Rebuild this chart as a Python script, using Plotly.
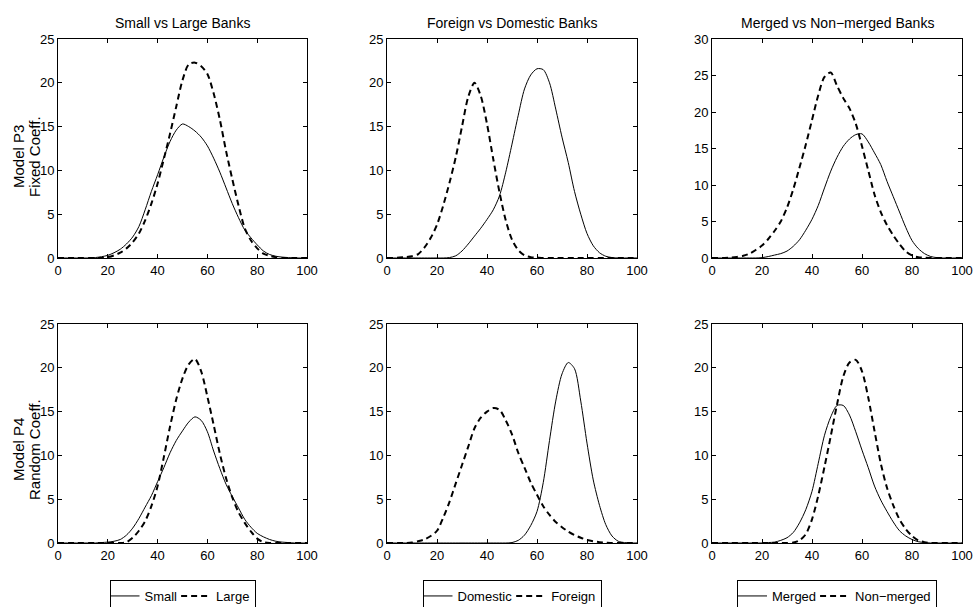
import plotly.graph_objects as go

# ---------------- data ----------------
X = [0, 2.5, 5, 7.5, 10, 12.5, 15, 17.5, 20, 22.5, 25, 27.5, 30, 32.5, 35, 37.5, 40,
     42.5, 45, 47.5, 50, 52.5, 55, 57.5, 60, 62.5, 65, 67.5, 70, 72.5, 75, 77.5, 80,
     82.5, 85, 87.5, 90, 92.5, 95, 97.5, 100]

X_TICKS = [0, 20, 40, 60, 80, 100]

TITLES = ["Small vs Large Banks", "Foreign vs Domestic Banks", "Merged vs Non\u2212merged Banks"]
ROW_LABELS = [("Model P3", "Fixed Coeff."), ("Model P4", "Random Coeff.")]
LEGEND_NAMES = [("Small", "Large"), ("Domestic", "Foreign"), ("Merged", "Non\u2212merged")]

# Row 1: Model P3 Fixed Coeff.
p3_small = [0, 0, 0, 0, 0, 0, 0.05, 0.15, 0.3, 0.6, 1.0, 1.6, 2.4, 3.6, 5.5, 7.6, 9.5, 11.5,
            13.3, 14.6, 15.3, 15.0, 14.5, 13.8, 12.8, 11.4, 9.8, 8.0, 6.2, 4.6, 3.2, 2.3, 1.5,
            0.8, 0.4, 0.2, 0.1, 0.05, 0, 0, 0]
p3_large = [0, 0, 0, 0, 0, 0, 0, 0, 0.1, 0.3, 0.6, 1.1, 1.8, 2.8, 4.3, 6.2, 8.5, 11.3, 14.2,
            17.3, 20.3, 22.1, 22.3, 21.9, 21.0, 18.8, 15.8, 12.2, 9.0, 6.0, 3.4, 2.0, 1.1, 0.5,
            0.25, 0.1, 0, 0, 0, 0, 0]
p3_domestic = [0, 0, 0, 0, 0, 0, 0, 0, 0, 0, 0.05, 0.25, 0.8, 1.6, 2.5, 3.4, 4.4, 5.5, 7.1,
               9.8, 13.0, 16.3, 19.3, 20.9, 21.6, 21.5, 20.0, 17.0, 13.8, 10.9, 7.6, 5.0, 2.8,
               1.4, 0.6, 0.2, 0.05, 0, 0, 0, 0]
p3_foreign = [0, 0, 0.05, 0.1, 0.2, 0.45, 1.2, 2.3, 3.8, 6.0, 8.6, 11.5, 15.0, 18.4, 20.0,
              18.5, 15.3, 11.3, 7.5, 4.3, 2.1, 0.9, 0.3, 0.1, 0.05, 0, 0, 0, 0, 0, 0, 0, 0,
              0, 0, 0, 0, 0, 0, 0, 0]
p3_merged = [0, 0, 0, 0, 0, 0, 0, 0, 0.05, 0.2, 0.4, 0.6, 0.95, 1.6, 2.5, 3.8, 5.3, 7.2, 9.6,
             11.9, 13.8, 15.3, 16.3, 16.9, 17.0, 15.9, 14.4, 12.8, 10.5, 8.4, 6.3, 4.2, 2.4,
             1.3, 0.6, 0.2, 0.05, 0, 0, 0, 0]
p3_nonmerged = [0, 0, 0, 0.05, 0.15, 0.3, 0.6, 1.1, 1.7, 2.6, 3.7, 5.0, 6.9, 9.4, 12.4, 15.5,
                18.9, 22.3, 24.8, 25.4, 23.6, 21.9, 20.5, 18.4, 15.3, 12.0, 8.7, 6.3, 4.5, 3.1,
                1.9, 0.9, 0.35, 0.1, 0.05, 0, 0, 0, 0, 0, 0]

# Row 2: Model P4 Random Coeff.
p4_small = [0, 0, 0, 0, 0, 0, 0, 0.05, 0.1, 0.2, 0.4, 0.9, 1.7, 2.8, 4.1, 5.4, 7.0, 8.6,
            10.3, 11.7, 12.8, 13.8, 14.4, 14.0, 12.7, 10.5, 8.5, 6.7, 5.3, 4.0, 2.7, 1.8, 1.1,
            0.7, 0.4, 0.2, 0.1, 0.05, 0, 0, 0]
p4_large = [0, 0, 0, 0, 0, 0, 0, 0, 0, 0, 0, 0.1, 0.6, 1.4, 2.5, 4.2, 6.5, 9.8, 13.3, 16.4,
            18.8, 20.4, 21.0, 19.6, 16.7, 13.5, 10.2, 7.4, 5.2, 3.5, 2.3, 1.3, 0.5, 0.1, 0, 0,
            0, 0, 0, 0, 0]
p4_domestic = [0, 0, 0, 0, 0, 0, 0, 0, 0, 0, 0, 0, 0, 0, 0, 0, 0, 0, 0, 0, 0.05, 0.3, 0.9,
               2.0, 3.6, 6.9, 11.7, 16.2, 19.3, 20.6, 19.9, 16.2, 11.4, 7.2, 4.3, 2.1, 0.8,
               0.2, 0.05, 0, 0]
p4_foreign = [0, 0, 0, 0, 0.05, 0.2, 0.4, 0.8, 1.4, 2.9, 4.7, 6.8, 8.9, 11.0, 13.1, 14.3,
              15.0, 15.4, 15.2, 14.0, 12.4, 10.3, 8.6, 6.9, 5.5, 4.2, 3.2, 2.4, 1.8, 1.3, 0.9,
              0.6, 0.35, 0.2, 0.1, 0.05, 0, 0, 0, 0, 0]
p4_merged = [0, 0, 0, 0, 0, 0, 0, 0, 0, 0.05, 0.1, 0.3, 0.6, 1.2, 2.3, 3.8, 5.9, 9.1, 12.3,
             14.4, 15.7, 15.7, 14.6, 12.7, 10.6, 8.6, 6.5, 4.9, 3.6, 2.4, 1.4, 0.8, 0.4, 0.15,
             0.05, 0, 0, 0, 0, 0, 0]
p4_nonmerged = [0, 0, 0, 0, 0, 0, 0, 0, 0, 0, 0, 0, 0, 0.05, 0.3, 1.0, 2.7, 5.4, 8.7, 12.2,
                15.8, 19.0, 20.6, 20.9, 19.6, 16.6, 12.8, 9.1, 6.3, 4.3, 2.7, 1.6, 0.8, 0.3,
                0.1, 0, 0, 0, 0, 0, 0]

# panels: (row, col, solid series, dashed series, y max)
PANELS = [
    (0, 0, p3_small, p3_large, 25),
    (0, 1, p3_domestic, p3_foreign, 25),
    (0, 2, p3_merged, p3_nonmerged, 30),
    (1, 0, p4_small, p4_large, 25),
    (1, 1, p4_domestic, p4_foreign, 25),
    (1, 2, p4_merged, p4_nonmerged, 25),
]

# ---------------- layout geometry ----------------
W, H = 974, 607
COL_PX = [(58, 307), (387, 637), (712, 962)]
ROW_PX = [(39, 258), (324, 543)]

FONT = "Liberation Sans, Arial, sans-serif"

fig = go.Figure()
layout = dict(
    width=W, height=H,
    margin=dict(l=0, r=0, t=0, b=0, autoexpand=False),
    paper_bgcolor="white", plot_bgcolor="white",
    font=dict(family=FONT, size=13, color="black"),
    showlegend=True,
)

annotations = []
for i, (r, c, solid, dashed, ymax) in enumerate(PANELS):
    idx = i + 1
    xa = "x" if idx == 1 else f"x{idx}"
    ya = "y" if idx == 1 else f"y{idx}"
    xkey = "xaxis" if idx == 1 else f"xaxis{idx}"
    ykey = "yaxis" if idx == 1 else f"yaxis{idx}"
    x0, x1 = COL_PX[c]
    t0, t1 = ROW_PX[r]
    layout[xkey] = dict(
        domain=[x0 / W, x1 / W], anchor=ya, range=[0, 100],
        tickvals=X_TICKS, ticks="inside", ticklen=4, tickcolor="black",
        showline=True, linecolor="black", linewidth=1, mirror="ticks",
        showgrid=False, zeroline=False, tickfont=dict(size=13, family=FONT),
        automargin=False, ticklabeloverflow="allow",
    )
    layout[ykey] = dict(
        domain=[1 - t1 / H, 1 - t0 / H], anchor=xa, range=[0, ymax], dtick=5,
        ticks="inside", ticklen=4, tickcolor="black",
        showline=True, linecolor="black", linewidth=1, mirror="ticks",
        showgrid=False, zeroline=False, tickfont=dict(size=13, family=FONT),
        automargin=False, ticklabeloverflow="allow",
    )
    lg = "legend" if c == 0 else f"legend{c + 1}"
    names = LEGEND_NAMES[c]
    fig.add_trace(go.Scatter(
        x=X, y=solid, mode="lines", name=names[0], xaxis=xa, yaxis=ya,
        line=dict(color="black", width=1, shape="spline", smoothing=0.8),
        showlegend=(r == 1), legend=lg, hoverinfo="skip",
    ))
    fig.add_trace(go.Scatter(
        x=X, y=dashed, mode="lines", name=names[1], xaxis=xa, yaxis=ya,
        line=dict(color="black", width=2, dash="6px,4px", shape="spline", smoothing=0.8),
        showlegend=(r == 1), legend=lg, hoverinfo="skip",
    ))

# titles
for c, t in enumerate(TITLES):
    x0, x1 = COL_PX[c]
    annotations.append(dict(
        x=(x0 + x1) / 2 / W, y=1 - 23 / H, xref="paper", yref="paper",
        text=t, showarrow=False, xanchor="center", yanchor="middle",
        font=dict(size=14, family=FONT),
    ))

# row labels
ROW_LABEL_Y = [157, 450]
for r, (l1, l2) in enumerate(ROW_LABELS):
    for xpx, txt in ((18, l1), (34, l2)):
        annotations.append(dict(
            x=xpx / W, y=1 - ROW_LABEL_Y[r] / H, xref="paper", yref="paper",
            text=txt, showarrow=False, textangle=-90,
            xanchor="center", yanchor="middle",
            font=dict(size=15, family=FONT),
        ))

layout["annotations"] = annotations

for c in range(3):
    x0, x1 = COL_PX[c]
    key = "legend" if c == 0 else f"legend{c + 1}"
    layout[key] = dict(
        x=(x0 + x1) / 2 / W, xanchor="center", y=1 - 580 / H, yanchor="top",
        orientation="h", bordercolor="black", borderwidth=1, bgcolor="white",
        font=dict(size=13, family=FONT), itemwidth=30, tracegroupgap=0,
        indentation=-6,
    )

fig.update_layout(**layout)
fig.write_html("out.html", config={"displayModeBar": False},
               post_script="document.body.style.margin='0px';")
